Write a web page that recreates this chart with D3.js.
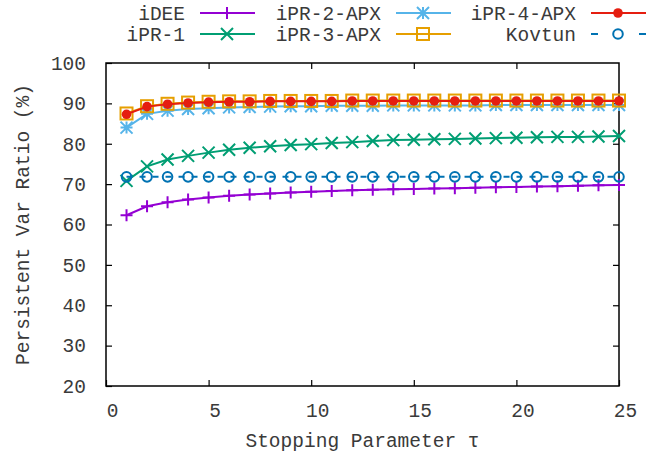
<!DOCTYPE html>
<html>
<head>
<meta charset="utf-8">
<script src="https://cdn.jsdelivr.net/npm/d3@7"></script>
<style>
  body { margin: 0; background: #fff; }
  text { font-family: "Courier New", "Liberation Mono", monospace; font-size: 19.5px; fill: #3a3a3a; }
</style>
</head>
<body>
<div id="chart"></div>
<script>
// stopping parameter tau
var tau = d3.range(1, 26);

var iDEE   = [62.3, 64.5, 65.5, 66.2, 66.7, 67.1, 67.4, 67.7, 67.9, 68.1, 68.3, 68.5, 68.6, 68.7, 68.8, 68.9, 69.0, 69.1, 69.2, 69.3, 69.4, 69.5, 69.6, 69.7, 69.8];
var iPR1   = [70.8, 74.4, 76.1, 77.0, 77.8, 78.5, 79.0, 79.4, 79.7, 79.9, 80.2, 80.4, 80.7, 80.9, 81.0, 81.1, 81.2, 81.3, 81.4, 81.5, 81.6, 81.7, 81.7, 81.8, 81.9];
var iPR2   = [84.0, 87.4, 88.2, 88.6, 88.8, 89.0, 89.1, 89.2, 89.3, 89.3, 89.4, 89.4, 89.4, 89.5, 89.5, 89.5, 89.5, 89.5, 89.6, 89.6, 89.6, 89.6, 89.6, 89.6, 89.6];
var iPR3   = [87.5, 89.3, 89.9, 90.2, 90.4, 90.5, 90.5, 90.6, 90.6, 90.6, 90.6, 90.7, 90.7, 90.7, 90.7, 90.7, 90.7, 90.7, 90.7, 90.7, 90.7, 90.7, 90.7, 90.7, 90.7];
var iPR4   = [87.3, 89.2, 89.8, 90.1, 90.3, 90.4, 90.4, 90.5, 90.5, 90.5, 90.5, 90.6, 90.6, 90.6, 90.6, 90.6, 90.6, 90.6, 90.6, 90.6, 90.6, 90.6, 90.6, 90.6, 90.6];
var kovtun = [71.8, 71.8, 71.8, 71.8, 71.8, 71.8, 71.8, 71.8, 71.8, 71.8, 71.8, 71.8, 71.8, 71.8, 71.8, 71.8, 71.8, 71.8, 71.8, 71.8, 71.8, 71.8, 71.8, 71.8, 71.8];

var xTicks = [0, 5, 10, 15, 20, 25];
var yTicks = [20, 30, 40, 50, 60, 70, 80, 90, 100];

var series = [
    {name: "iDEE",      values: iDEE,   color: "#9400d3", marker: "plus"},
    {name: "iPR-1",     values: iPR1,   color: "#009e73", marker: "cross"},
    {name: "iPR-2-APX", values: iPR2,   color: "#56b4e9", marker: "star"},
    {name: "iPR-3-APX", values: iPR3,   color: "#e69f00", marker: "square"},
    {name: "iPR-4-APX", values: iPR4,   color: "#e51e10", marker: "dot"},
    {name: "Kovtun",    values: kovtun, color: "#0072b2", marker: "circle", dash: "6,7"}
];

var svgWidth = 648;
var svgHeight = 452;
var margin = {top: 63, right: 29, bottom: 66, left: 106};
var width = svgWidth - margin.left - margin.right;
var height = svgHeight - margin.top - margin.bottom;

var svg = d3.select("#chart")
    .append("svg")
    .attr("width", svgWidth)
    .attr("height", svgHeight);

var chartGroup = svg.append("g")
    .attr("transform", `translate(${margin.left}, ${margin.top})`);

var x = d3.scaleLinear().domain([0, 25]).range([0, width]);
var y = d3.scaleLinear().domain([20, 100]).range([height, 0]);

// axes, ticks pointing inwards
var tickLen = 6;
chartGroup.append("g")
    .attr("transform", `translate(0, ${height})`)
    .call(d3.axisBottom(x).tickValues(xTicks).tickSizeInner(-tickLen).tickSizeOuter(0).tickPadding(12))
    .call(g => g.selectAll("text").attr("dx", 6).attr("dy", "0.95em"));
chartGroup.append("g")
    .call(d3.axisTop(x).tickValues(xTicks.slice(1, -1)).tickSizeInner(-tickLen).tickSizeOuter(0).tickFormat(""));
chartGroup.append("g")
    .call(d3.axisLeft(y).tickValues(yTicks).tickSizeInner(-tickLen).tickSizeOuter(0).tickPadding(20));
chartGroup.append("g")
    .attr("transform", `translate(${width}, 0)`)
    .call(d3.axisRight(y).tickValues(yTicks.slice(1, -1)).tickSizeInner(-tickLen).tickSizeOuter(0).tickFormat(""));

chartGroup.selectAll(".domain").remove();
chartGroup.selectAll(".tick line").attr("stroke", "#000").attr("stroke-width", 1.2);
chartGroup.selectAll(".tick text").attr("fill", "#3a3a3a").style("font-size", "19.5px");

chartGroup.append("rect")
    .attr("width", width)
    .attr("height", height)
    .attr("fill", "none")
    .attr("stroke", "#000")
    .attr("stroke-width", 1.5);

function drawMarker(g, type, color) {
    var s = 6;
    if (type == "plus") {
        g.append("path").attr("d", `M${-s},0H${s}M0,${-s}V${s}`).attr("stroke", color).attr("stroke-width", 2);
    } else if (type == "cross") {
        g.append("path").attr("d", `M${-s},${-s}L${s},${s}M${-s},${s}L${s},${-s}`).attr("stroke", color).attr("stroke-width", 2);
    } else if (type == "star") {
        g.append("path").attr("d", `M${-s},0H${s}M0,${-s}V${s}M${-s},${-s}L${s},${s}M${-s},${s}L${s},${-s}`).attr("stroke", color).attr("stroke-width", 2);
    } else if (type == "square") {
        g.append("rect").attr("x", -s).attr("y", -s).attr("width", 2 * s).attr("height", 2 * s)
            .attr("fill", "none").attr("stroke", color).attr("stroke-width", 2);
    } else if (type == "dot") {
        g.append("circle").attr("r", 4.8).attr("fill", color);
    } else if (type == "circle") {
        g.append("circle").attr("r", 4.8).attr("fill", "none").attr("stroke", color).attr("stroke-width", 2);
    }
}

var line = d3.line()
    .x((d, i) => x(tau[i]))
    .y(d => y(d));

series.forEach(function(s) {
    chartGroup.append("path")
        .datum(s.values)
        .attr("fill", "none")
        .attr("stroke", s.color)
        .attr("stroke-width", 2)
        .attr("stroke-dasharray", s.dash || null)
        .attr("d", line);
    s.values.forEach(function(v, i) {
        var g = chartGroup.append("g").attr("transform", `translate(${x(tau[i])}, ${y(v)})`);
        drawMarker(g, s.marker, s.color);
    });
});

// legend, two rows of three
var legendCols = [185, 381, 576];
var legendRows = [13, 34];
series.forEach(function(s, i) {
    var col = Math.floor(i / 2), row = i % 2;
    var lx = legendCols[col], ly = legendRows[row];
    svg.append("text")
        .attr("x", lx)
        .attr("y", ly)
        .attr("dy", "0.35em")
        .attr("text-anchor", "end")
        .text(s.name);
    svg.append("line")
        .attr("x1", lx + 15).attr("x2", lx + 70)
        .attr("y1", ly).attr("y2", ly)
        .attr("stroke", s.color)
        .attr("stroke-width", 2)
        .attr("stroke-dasharray", s.dash ? "7,41" : null);
    var g = svg.append("g").attr("transform", `translate(${lx + 42}, ${ly})`);
    drawMarker(g, s.marker, s.color);
});

// axis titles
svg.append("text")
    .attr("transform", "rotate(-90)")
    .attr("x", -(margin.top + height / 2))
    .attr("y", 22)
    .attr("dy", "0.35em")
    .attr("text-anchor", "middle")
    .text("Persistent Var Ratio (%)");

svg.append("text")
    .attr("x", margin.left + width / 2)
    .attr("y", 440)
    .attr("dy", "0.35em")
    .attr("text-anchor", "middle")
    .text("Stopping Parameter τ");
</script>
</body>
</html>
